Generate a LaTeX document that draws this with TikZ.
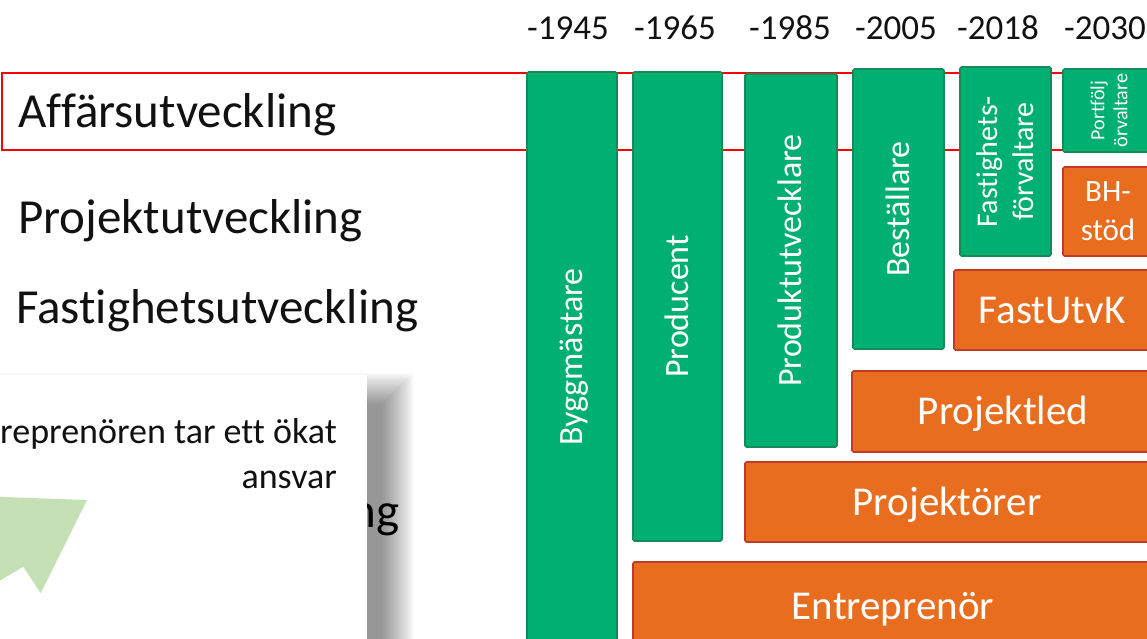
\documentclass[tikz,border=0pt]{standalone}
\usepackage{fontspec}
\setmainfont{Carlito}[Ligatures={NoCommon}]
\usepackage{tikz}
\definecolor{gfill}{HTML}{00B073}
\definecolor{gline}{HTML}{178A5C}
\definecolor{ofill}{HTML}{E86D1F}
\definecolor{oline}{HTML}{C0392B}
\definecolor{pil}{HTML}{C5E0B4}
\definecolor{textc}{HTML}{111111}

\begin{document}
\begin{tikzpicture}[x=1pt, y=1pt,
	gbar/.style={draw=gline, fill=gfill, line width=1.6pt, rounded corners=1.5pt, text=white, inner sep=0pt},
	obox/.style={draw=oline, fill=ofill, line width=1.6pt, rounded corners=1.5pt, text=white, inner sep=0pt},
	big/.style={font=\fontsize{41}{49}\selectfont, text height=26.4pt, text depth=0pt},
	mid/.style={font=\fontsize{34}{41}\selectfont, text height=21.9pt, text depth=0pt},
	rubrik/.style={font=\fontsize{49}{58}\selectfont, anchor=base west, text=textc, inner sep=0pt},
	year/.style={font=\fontsize{35}{42}\selectfont, anchor=base, text=textc, inner sep=0pt}]
				\useasboundingbox (0,0) rectangle (1147,-638);
				\clip (0,0) rectangle (1147,-638);
				\begin{scope}
					% rubriker till vanster
					\node[rubrik] (affar) at (18,-127) {Affärsutveckling};
					\node[rubrik] (projutv) at (18,-233) {Projektutveckling};
					\node[rubrik] (fastutv) at (16,-323) {Fastighetsutveckling};
					\node[rubrik, anchor=base east] (dold) at (400,-527) {ng};

					\draw[red, line width=2.2pt] (2,-73) rectangle (1165,-150); % ram runt affarsutveckling

					% artal
					\node[year] (y1945) at (568,-39) {-1945};
					\node[year] (y1965) at (675,-39) {-1965};
					\node[year] (y1985) at (790,-39) {-1985};
					\node[year] (y2005) at (896,-39) {-2005};
					\node[year] (y2018) at (998,-39) {-2018};
					\node[year] (y2030) at (1105,-39) {-2030};

					% grona staplar
					\node[gbar, mid, rotate=90, minimum width=570, minimum height=90] (bygg) at (572,-357) {Byggmästare};
					\node[gbar, mid, rotate=90, minimum width=469, minimum height=89] (prod) at (677.5,-306.5) {Producent};
					\node[gbar, mid, rotate=90, minimum width=373, minimum height=92] (produtv) at (791,-260.5) {Produktutvecklare};
					\node[gbar, mid, rotate=90, minimum width=280, minimum height=91] (best) at (898.5,-209) {Beställare};
					\node[gbar, rotate=90, align=center, font=\fontsize{30}{36}\selectfont, minimum width=189, minimum height=91] (fastf) at (1005.5,-161.5) {Fastighets-\\förvaltare};
					\node[gbar, rotate=90, align=center, font=\fontsize{20}{23}\selectfont, minimum width=83, minimum height=92] (portf) at (1109,-110.5) {Portfölj\\örvaltare};

					% orange lador
					\node[obox, align=center, font=\fontsize{31}{39}\selectfont, minimum width=90, minimum height=89] (bh) at (1108,-211.5) {BH-\\stöd};
					\node[obox, big, minimum width=196, minimum height=80] (fastk) at (1052,-310) {FastUtvK};
					\node[obox, big, minimum width=302, minimum height=81] (pled) at (1003,-411.5) {Projektled};
					\node[obox, big, minimum width=404, minimum height=80] (pror) at (947,-502) {Projektörer};
					\node[obox, big, minimum width=520, minimum height=88] (entr) at (893,-606) {Entreprenör};

					% pratbubbla med skugga
					\foreach \r in {0,...,32}
						\fill[black, opacity=0.016] (-40-\r,-405+\r) rectangle (382+\r,-700);
					\fill[white] (-10,-375) rectangle (366.7,-650);
					\fill[pil] (-5,-496.7) -- (87,-500) -- (40.7,-593.3) -- (23.3,-566.7) -- (-5,-583.5) -- cycle; % pilspets
					\node[font=\fontsize{36}{45}\selectfont, anchor=base east, text=textc, inner sep=0pt] (call1) at (337,-443) {reprenören tar ett ökat};
					\node[font=\fontsize{36}{45}\selectfont, anchor=base east, text=textc, inner sep=0pt] (call2) at (337,-488) {ansvar};
				\end{scope}
			\end{tikzpicture}
\end{document}
